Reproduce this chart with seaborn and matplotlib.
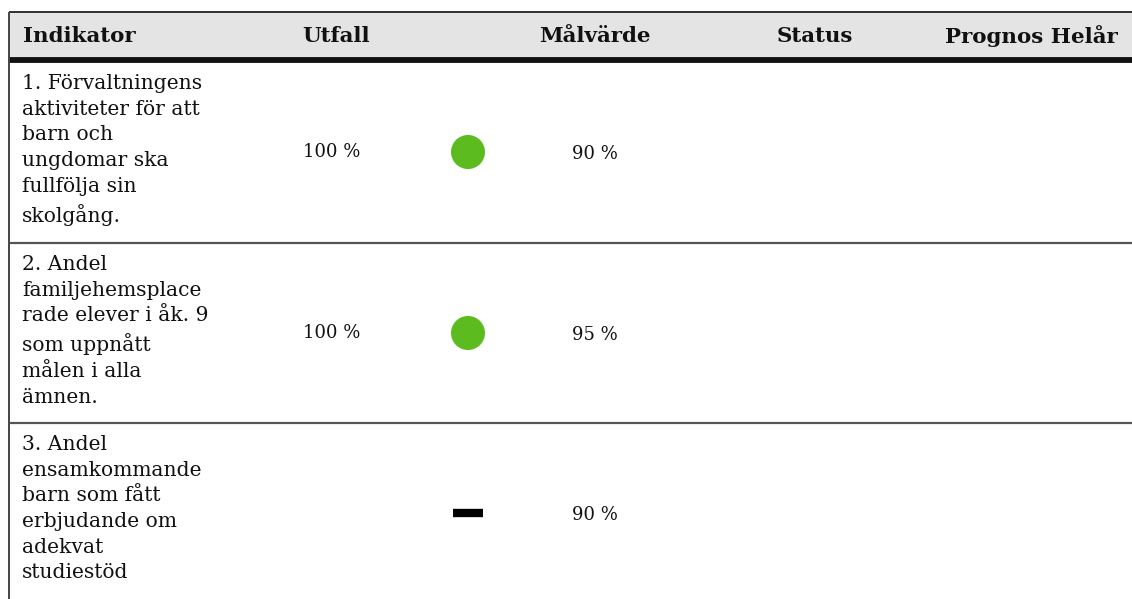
import matplotlib
matplotlib.use("Agg")
import matplotlib.pyplot as plt
import seaborn as sns
import pandas as pd

# Data
headers = ["Indikator", "Utfall", "Målvärde", "Status", "Prognos Helår"]
indikatorer = [
    "1. Förvaltningens\naktiviteter för att\nbarn och\nungdomar ska\nfullfölja sin\nskolgång.",
    "2. Andel\nfamiljehemsplace\nrade elever i åk. 9\nsom uppnått\nmålen i alla\nämnen.",
    "3. Andel\nensamkommande\nbarn som fått\nerbjudande om\nadekvat\nstudiestöd",
]
utfall = ["100 %", "100 %", ""]
malvarde = ["90 %", "95 %", "90 %"]
status = ["green", "green", "none"]

# Layout (pixel coordinates)
W, H = 1132, 599
header_top, header_bot = 12, 58
row_bounds = [62, 243, 423, 604]
header_x = [23, 302, 539, 777, 945]
utfall_x, dot_x, mal_x = 303, 468, 572

sns.set_style("white")
plt.rcParams["font.family"] = ["DejaVu Serif"]

fig = plt.figure(figsize=(W / 100, H / 100), dpi=100)
ax = fig.add_axes([0, 0, 1, 1])

# header band
ax.fill_between([8.5, W], header_top, header_bot, color="#e4e4e4", zorder=0)
ax.hlines(header_top, 8.5, W, color="#222222", lw=1.3)
ax.hlines(header_bot + 1.5, 8.5, W, color="#111111", lw=4.2)
ax.vlines(8.5, header_top, H, color="#444444", lw=1.4)
for y in row_bounds[1:-1]:
    ax.hlines(y, 8.5, W, color="#555555", lw=1.6)

for x, h in zip(header_x, headers):
    ax.text(x, 36, h, fontsize=15.4, fontweight="bold", va="center", ha="left", color="#111111")

centers = [152, 333, 513]
for i, txt in enumerate(indikatorer):
    ax.text(22, row_bounds[i] + 12, txt, fontsize=14.6, va="top", ha="left",
            linespacing=1.445, color="#111111")
    if utfall[i]:
        ax.text(utfall_x, centers[i], utfall[i], fontsize=13, va="center", ha="left", color="#111111")
    ax.text(mal_x, centers[i] + 2, malvarde[i], fontsize=13, va="center", ha="left", color="#111111")

df = pd.DataFrame({"x": [dot_x] * 3, "y": centers, "status": status})
green = df[df["status"] == "green"]
sns.scatterplot(data=green, x="x", y="y", ax=ax, s=600, color="#5bbb1f",
                edgecolor="none", legend=False)
dash = df[df["status"] == "none"]
ax.hlines(dash["y"], dash["x"] - 15, dash["x"] + 15, color="black", lw=6)
ax.set_xlim(0, W)
ax.set_ylim(H, 0)
ax.axis("off")

fig.savefig("out.png", dpi=100)
